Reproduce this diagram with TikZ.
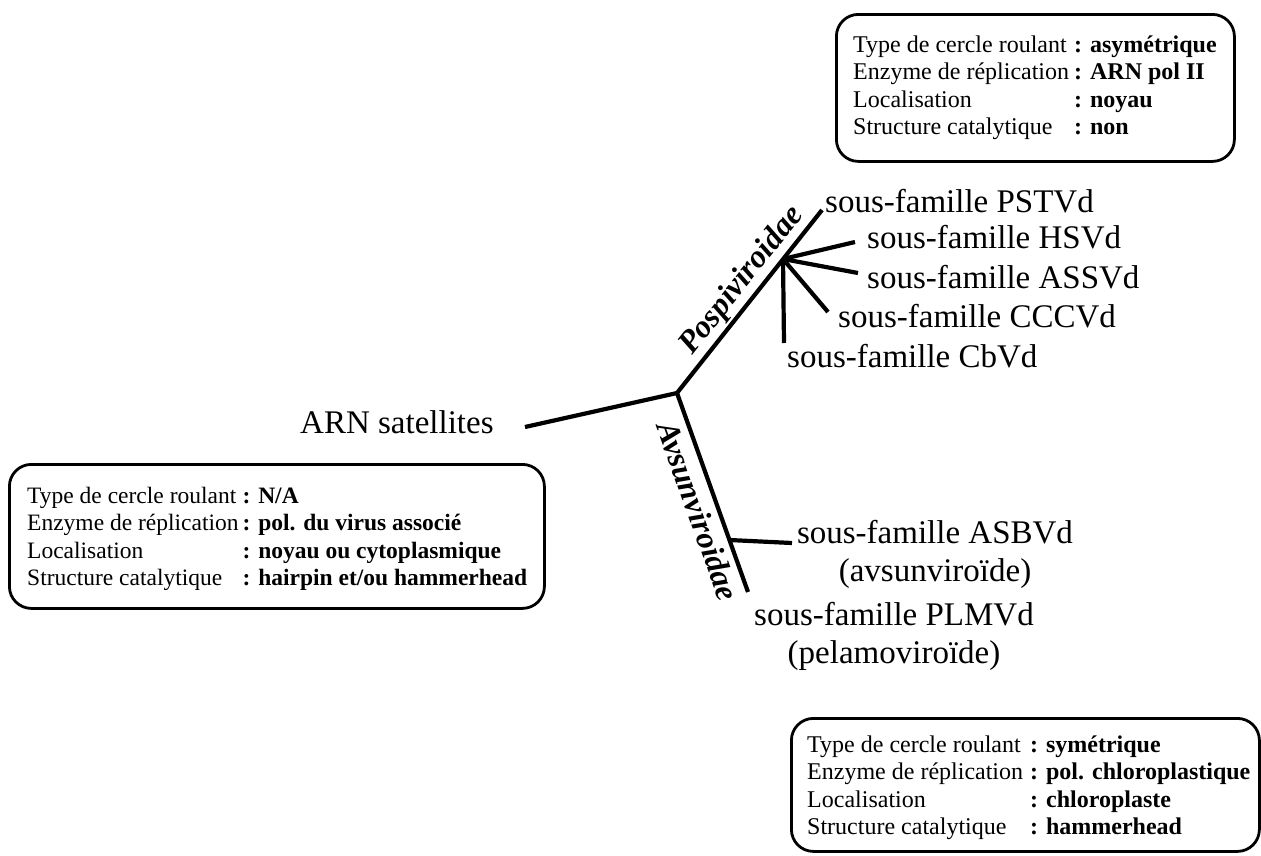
\documentclass[tikz,border=0pt]{standalone}
\usepackage{fontspec}
\setmainfont{Liberation Serif}
\begin{document}
\begin{tikzpicture}[x=1pt,y=-1pt,
  branch/.style={line width=4.2pt},
  infobox/.style={draw, line width=2.8pt, rounded corners=22pt, inner sep=0pt, anchor=north west},
  boxtext/.style={inner sep=0pt, anchor=base west, font=\fontsize{24}{27.5}\selectfont},
  biglabel/.style={inner sep=0pt, font=\fontsize{33}{38.5}\selectfont},
  famlabel/.style={inner sep=0pt, font=\fontsize{32}{38}\selectfont\bfseries\itshape},
]
\useasboundingbox (0,0) rectangle (1261,855);

% info boxes
\node[infobox, minimum width=398pt, minimum height=147pt] (boxP) at (835,13) {};
\node[boxtext] (txtP) at (853,52) {\begin{tabular}[t]{@{}l@{\hspace{5pt}}l@{}}
Type de cercle roulant & \textbf{: asymétrique}\\
Enzyme de réplication & \textbf{: ARN pol II}\\
Localisation & \textbf{: noyau}\\
Structure catalytique & \textbf{: non}
\end{tabular}};

\node[infobox, minimum width=535pt, minimum height=144pt] (boxS) at (8,463) {};
\node[boxtext, font=\fontsize{23.5}{27.5}\selectfont] (txtS) at (27,503) {\begin{tabular}[t]{@{}l@{\hspace{4pt}}l@{}}
Type de cercle roulant & \textbf{: N/A}\\
Enzyme de réplication & \textbf{: pol. du virus associé}\\
Localisation & \textbf{: noyau ou cytoplasmique}\\
Structure catalytique & \textbf{: hairpin et/ou hammerhead}
\end{tabular}};

\node[infobox, minimum width=468pt, minimum height=133pt] (boxA) at (790,717) {};
\node[boxtext] (txtA) at (807,752) {\begin{tabular}[t]{@{}l@{\hspace{7pt}}l@{}}
Type de cercle roulant & \textbf{: symétrique}\\
Enzyme de réplication & \textbf{: pol. chloroplastique}\\
Localisation & \textbf{: chloroplaste}\\
Structure catalytique & \textbf{: hammerhead}
\end{tabular}};

% labels
\node[biglabel, anchor=base west] (arn) at (300,433) {ARN satellites};
\node[biglabel, anchor=base west] (pstvd) at (825,212) {sous-famille PSTVd};
\node[biglabel, anchor=base west] (hsvd) at (867,248) {sous-famille HSVd};
\node[biglabel, anchor=base west] (assvd) at (867,288) {sous-famille ASSVd};
\node[biglabel, anchor=base west] (cccvd) at (838,327) {sous-famille CCCVd};
\node[biglabel, anchor=base west] (cbvd) at (787,367) {sous-famille CbVd};
\node[biglabel, anchor=base] (asbvd) at (935,543) {\begin{tabular}[t]{@{}c@{}}sous-famille ASBVd\\(avsunviroïde)\end{tabular}};
\node[biglabel, anchor=base] (plmvd) at (894,625) {\begin{tabular}[t]{@{}c@{}}sous-famille PLMVd\\(pelamoviroïde)\end{tabular}};

% tree
\coordinate (J) at (677,393);
\coordinate (Sstart) at (525,427);
\coordinate (Pend) at (822,210);
\coordinate (H) at (783,259);
\coordinate (eHS) at (855,242);
\coordinate (eAS) at (858,273);
\coordinate (eCC) at (828,312);
\coordinate (eCb) at (784,343);
\coordinate (Aend) at (748,592);
\coordinate (Ab) at (729.5,540);
\coordinate (eAB) at (792,543);

\draw[branch] (Sstart) -- (J);
\draw[branch] (J) -- (Pend);
\draw[branch] (H) -- (eHS);
\draw[branch] (H) -- (eAS);
\draw[branch] (H) -- (eCC);
\draw[branch] (H) -- (eCb);
\draw[branch] (J) -- (Aend);
\draw[branch] (Ab) -- (eAB);

\path (J) -- (Pend) node[famlabel, sloped, pos=0.55, above=4pt] (pospi) {Pospiviroidae};
\path (J) -- (Aend) node[famlabel, sloped, pos=0.56, below=8pt] (avsun) {Avsunviroidae};
\end{tikzpicture}
\end{document}
